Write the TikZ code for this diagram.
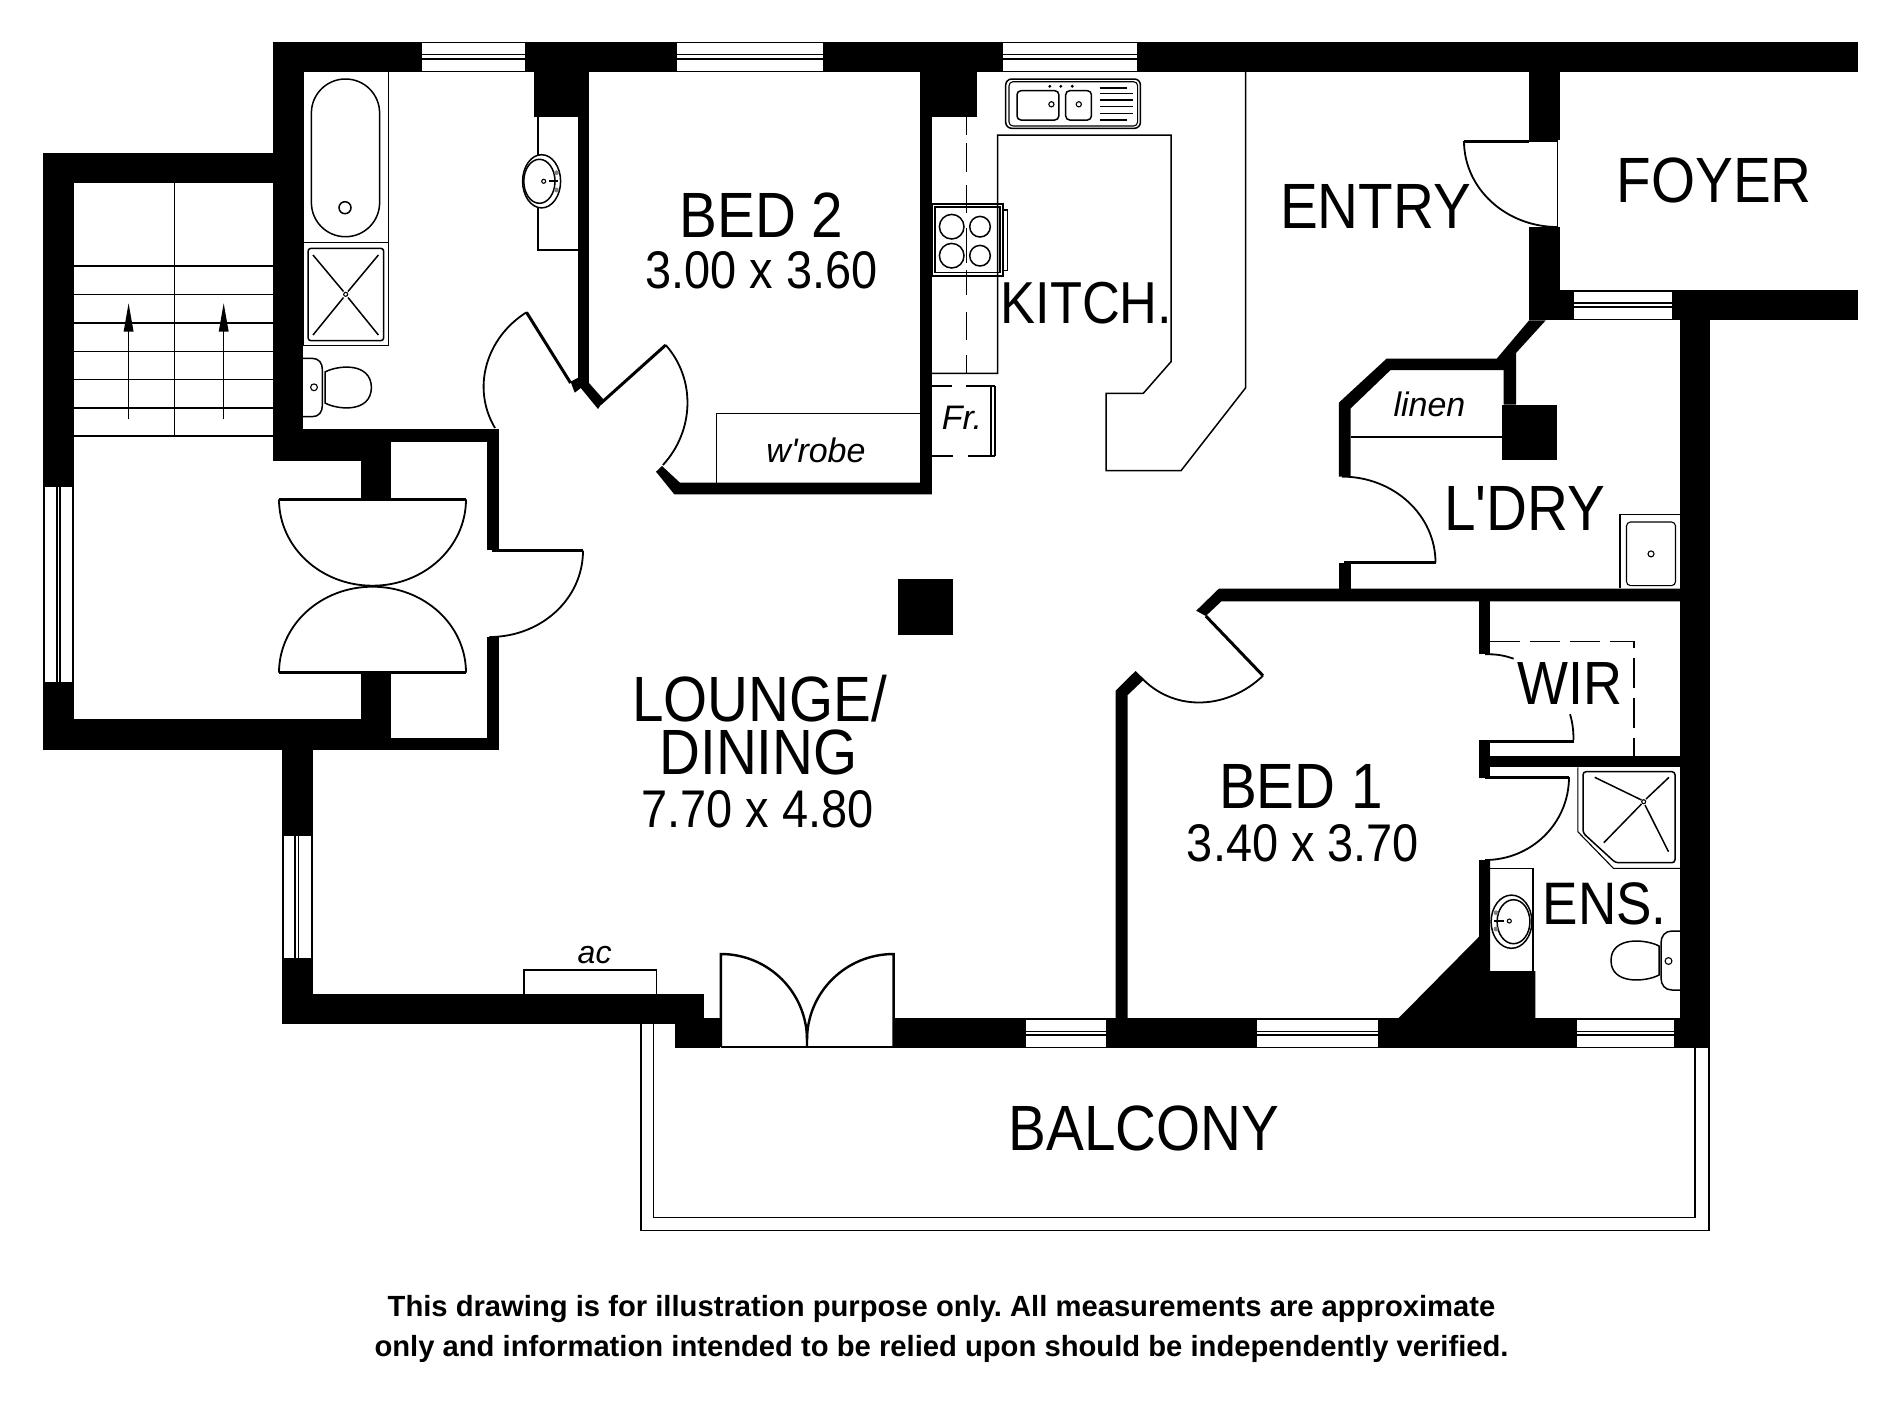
\documentclass[tikz,border=0pt]{standalone}
\usepackage{fontspec}
\setmainfont{Liberation Sans}
\newfontfamily\roomfont[FakeStretch=0.885]{Liberation Sans}
\newfontfamily\notefont{Liberation Sans}
\tikzset{
  wall/.style={fill=black,draw=none},
  glass/.style={fill=white,draw=none},
  pane/.style={draw=black,line width=0.8pt},
  fixture/.style={draw=black,line width=0.75pt},
  fine/.style={draw=black,line width=0.55pt},
  swing/.style={draw=black,line width=0.9pt},
  leaf/.style={draw=black,line width=1.5pt},
  hidden/.style={draw=black,line width=0.75pt,dash pattern=on 15pt off 5pt},
  room/.style={inner sep=0pt,font=\roomfont\fontsize{32}{32}\selectfont},
  size/.style={inner sep=0pt,font=\roomfont\fontsize{26.5}{26.5}\selectfont},
  note/.style={inner sep=0pt,font=\notefont\itshape\fontsize{17}{17}\selectfont},
  foot/.style={inner sep=0pt,font=\bfseries\frenchspacing\fontsize{14.6}{14.6}\selectfont}
}
\begin{document}
\begin{tikzpicture}[x=0.5pt,y=-0.5pt]
  \useasboundingbox (0,0) rectangle (1900,1425);
  \fill[wall] (272.6,41.7) rectangle (1858,72);
  \fill[wall] (272.6,41.7) rectangle (303,461);
  \fill[wall] (43,152.7) rectangle (303,183.3);
  \fill[wall] (43,152.7) rectangle (73.5,750);
  \fill[wall] (43,719) rectangle (360.8,750);
  \fill[wall] (390.6,737.7) rectangle (498.8,750);
  \fill[wall] (303,429.3) rectangle (498.8,441.7);
  \fill[wall] (272.6,441.7) rectangle (360.8,461);
  \fill[wall] (360.8,441.7) rectangle (390.6,499.3);
  \fill[wall] (360.8,674) rectangle (390.6,750);
  \fill[wall] (486.5,436) rectangle (498.8,550);
  \fill[wall] (486.5,636.7) rectangle (498.8,750);
  \fill[wall] (282,750) rectangle (312.7,1024);
  \fill[wall] (282,993.7) rectangle (704.3,1024);
  \fill[wall] (674.7,1017.7) rectangle (719.7,1048.3);
  \fill[wall] (894,1017.7) rectangle (1710,1048.3);
  \fill[wall] (1680,289.8) rectangle (1710,1048.3);
  \fill[wall] (1559.6,289.8) rectangle (1858,320.4);
  \fill[wall] (1529,72) rectangle (1559.6,139.8);
  \fill[wall] (1529,226.7) rectangle (1559.6,320.4);
  \fill[wall] (533.5,72) rectangle (589,116.7);
  \fill[wall] (577.5,116.7) rectangle (589,383);
  \fill[wall] (920,72) rectangle (977,116.7);
  \fill[wall] (920,116.7) rectangle (932.2,494.3);
  \fill[wall] (932.2,494.3) -- (674.3,494.3) -- (656,471.7) -- (662,466) -- (680,482.7) -- (920,482.7) -- cycle;
  \fill[wall] (577.5,378) -- (570.6,381.7) -- (574.7,392.7) -- (580.8,388) -- (598,409) -- (604,400) -- (589,383) -- cycle;
  \fill[wall] (1115.6,1018) -- (1115.6,690.7) -- (1135.5,671) -- (1144.2,679.3) -- (1127.7,695) -- (1127.7,1018) -- cycle;
  \fill[wall] (1218.8,588.7) -- (1680,588.7) -- (1680,601.3) -- (1221.4,601.3) -- (1205.8,616) -- (1196.2,610.7) -- cycle;
  \fill[wall] (1479,601.3) rectangle (1490.2,654.3);
  \fill[wall] (1479,740) rectangle (1490.2,778.3);
  \fill[wall] (1479,756) rectangle (1680,767.3);
  \fill[wall] (1490.2,860) -- (1479,860) -- (1479,936.7) -- (1398.7,1018) -- (1535.3,1018) -- (1535.3,971) -- (1490.2,971) -- cycle;
  \fill[wall] (1529,320.4) -- (1496.7,358.7) -- (1386.5,358.7) -- (1338.8,402.7) -- (1338.8,476.6) -- (1350.6,476.6) -- (1350.6,408.4) -- (1390.6,370) -- (1503.7,370) -- (1503.7,404.6) -- (1516,404.6) -- (1516,353) -- (1545.7,320.4) -- cycle;
  \fill[wall] (1502,404.6) rectangle (1557,460);
  \fill[wall] (1338.8,562.7) rectangle (1350.6,590);
  \fill[wall] (898,579) rectangle (952.5,635);

  \fill[glass] (422,43.3) rectangle (524.5,70.7);
  \draw[pane] (422,54.5) -- (524.5,54.5);
  \draw[pane] (422,59) -- (524.5,59);
  \fill[glass] (676.7,43.3) rectangle (822.9,70.7);
  \draw[pane] (676.7,54.5) -- (822.9,54.5);
  \draw[pane] (676.7,59) -- (822.9,59);
  \fill[glass] (1002.9,43.3) rectangle (1136.7,70.7);
  \draw[pane] (1002.9,54.5) -- (1136.7,54.5);
  \draw[pane] (1002.9,59) -- (1136.7,59);
  \fill[glass] (1574,291.7) rectangle (1672,319.3);
  \draw[pane] (1574,303) -- (1672,303);
  \draw[pane] (1574,307) -- (1672,307);
  \fill[glass] (44.5,486.7) rectangle (72,681.7);
  \draw[pane] (56.7,486.7) -- (56.7,681.7);
  \draw[pane] (60,486.7) -- (60,681.7);
  \fill[glass] (284,836) rectangle (311,958);
  \draw[pane] (295,836) -- (295,958);
  \draw[pane] (298.4,836) -- (298.4,958);
  \fill[glass] (1026.3,1019.5) rectangle (1106.4,1046.7);
  \draw[pane] (1026.3,1031.5) -- (1106.4,1031.5);
  \draw[pane] (1026.3,1035) -- (1106.4,1035);
  \fill[glass] (1257,1019.5) rectangle (1378.3,1046.7);
  \draw[pane] (1257,1031.5) -- (1378.3,1031.5);
  \draw[pane] (1257,1035) -- (1378.3,1035);
  \fill[glass] (1576.5,1019.5) rectangle (1674,1046.7);
  \draw[pane] (1576.5,1031.5) -- (1674,1031.5);
  \draw[pane] (1576.5,1035) -- (1674,1035);

  \draw[fixture] (174.3,183.3) -- (174.3,436);
  \draw[fixture] (73.5,266) -- (272.6,266);
  \draw[fixture] (73.5,294.7) -- (272.6,294.7);
  \draw[fixture] (73.5,323) -- (272.6,323);
  \draw[fixture] (73.5,351.7) -- (272.6,351.7);
  \draw[fixture] (73.5,379.7) -- (272.6,379.7);
  \draw[fixture] (73.5,408) -- (272.6,408);
  \draw[fixture] (73.5,436) -- (272.6,436);
  \draw[fixture] (128.6,419.3) -- (128.6,331);
  \fill[black] (128.6,303.3) -- (133.6,331.7) -- (123.6,331.7) -- cycle;
  \draw[fixture] (223.7,419.3) -- (223.7,331);
  \fill[black] (223.7,303.3) -- (228.7,331.7) -- (218.7,331.7) -- cycle;

  \draw[fixture] (303,71.7) rectangle (388.6,242.7);
  \draw[fixture,rounded corners=17pt] (311.4,79) rectangle (379.6,236.7);
  \draw[fixture] (345,207.7) circle[radius=3pt];
  \draw[fixture] (303,242.7) rectangle (388.6,345.7);
  \draw[fixture,rounded corners=1.5pt] (308,248.3) rectangle (383.7,340.7);
  \draw[fixture] (313,255) -- (343.5,291.5);
  \draw[fixture] (348,297.5) -- (378.4,335);
  \draw[fixture] (378.4,255) -- (348,291.5);
  \draw[fixture] (343.5,297.5) -- (313,335);
  \draw[fine] (345.7,294.3) circle[radius=1pt];
  \draw[fixture] (303,358.3) -- (312,358.3) .. controls (319,358.3) and (322.4,363) .. (322.4,370) -- (322.4,405) .. controls (322.4,412) and (319,416.7) .. (312,416.7) -- (303,416.7);
  \draw[fixture] (325,372) .. controls (338,365) and (371,362) .. (371.4,387.5) .. controls (371,413) and (338,410) .. (325,403) -- cycle;
  \draw[fine] (314,387.3) circle[radius=1.7pt];
  \draw[fixture] (538,116.7) -- (538,250) -- (577.5,250);
  \draw[fill=white,line width=0.75pt] (541.6,181.3) ellipse[x radius=9.5pt,y radius=13.3pt];
  \draw[fixture] (539.4,181.3) ellipse[x radius=7.8pt,y radius=11pt];
  \draw[fine] (543.7,181.3) circle[radius=1pt];
  \draw[line width=1pt] (549,181.3) -- (558,181.3);
  \fill[gray] (556.5,172.7) circle[radius=1.2pt];
  \fill[gray] (556.5,190) circle[radius=1.2pt];

  \draw[leaf] (526.5,312.3) -- (570.6,383);
  \draw[swing] (526.5,312.3) .. controls (486.5,337.3) and (471,387.6) .. (495,428);
  \draw[leaf] (600,404) -- (665.7,345);
  \draw[swing] (665.7,345) .. controls (696.2,379.4) and (694.1,431.2) .. (662.9,465);
  \draw[leaf] (279,499.3) -- (466,499.3);
  \draw[leaf] (279,672.7) -- (466,672.7);
  \draw[swing] (279,499.3) .. controls (279,547.2) and (320.9,585.7) .. (372.5,585.7) .. controls (424,585.7) and (466,547.2) .. (466,499.3);
  \draw[swing] (279,672.7) .. controls (279,624.8) and (320.9,586.7) .. (372.5,586.7) .. controls (424,586.7) and (466,624.8) .. (466,672.7);
  \draw[leaf] (492,550.7) -- (583,550.7);
  \draw[swing] (583,550.7) .. controls (583,598.9) and (541.1,637) .. (489.4,637);
  \draw[leaf] (1464,141) -- (1529,141);
  \draw[fixture] (1464,141) -- (1557.6,141) -- (1557.6,227);
  \draw[swing] (1464,141) .. controls (1464,188.5) and (1505.9,227) .. (1557.6,227);
  \draw[leaf] (1344,562.7) -- (1435.5,562.7);
  \draw[swing] (1435.5,562.7) .. controls (1435.5,515) and (1393.6,476.6) .. (1342,476.6);
  \draw[leaf] (1205.8,616) -- (1263,675.7);
  \draw[swing] (1263,675.7) .. controls (1228.7,708.6) and (1176.6,712.8) .. (1142.9,679.3);
  \draw[leaf] (1485,741.7) -- (1573.5,741.7);
  \draw[swing] (1485,654.3) -- (1490,654.3) .. controls (1498,654.3) and (1506,656) .. (1513.6,658.7);
  \draw[swing] (1570,714.3) .. controls (1572.5,722) and (1573.5,731) .. (1573.5,740);
  \draw[leaf] (1485,777) -- (1569,777);
  \draw[swing] (1569,777) .. controls (1569,823.3) and (1531.4,860) .. (1485,860);
  \draw[fixture,line width=1.2pt] (720.8,1047) -- (720.8,954) .. controls (768.4,954) and (807,992.4) .. (807,1040) -- (807,1047);
  \draw[fixture,line width=1.2pt] (893.6,1047) -- (893.6,954) .. controls (845.8,954) and (807,992.4) .. (807,1040);
  \draw[fixture] (720.8,1047) -- (893.6,1047);

  \draw[fixture] (523.8,993.7) -- (523.8,970) -- (656.6,970) -- (656.6,993.7);
  \draw[fixture] (641.2,1024) -- (641.2,1230.7) -- (1708.8,1230.7) -- (1708.8,1048.3);
  \draw[fixture] (653.3,1024) -- (653.3,1217.3) -- (1695,1217.3) -- (1695,1048.3);

  \draw[fixture] (716.3,482.7) -- (716.3,413.3) -- (920,413.3);
  \draw[fixture] (932.3,386) -- (951.7,386);
  \draw[fixture] (966,386) -- (995,386);
  \draw[fixture] (932.3,456) -- (953,456);
  \draw[fixture] (967.7,456) -- (995,456);
  \draw[fine] (991,386) -- (991,456);
  \draw[fine] (995,386) -- (995,456);
  \draw[fixture] (932.2,373.3) -- (997.6,373.3) -- (997.6,135) -- (1171,135) -- (1171,361.7) -- (1143.3,393.3) -- (1106,393.3) -- (1106,470.7) -- (1181,470.7) -- (1245.7,387.7) -- (1245.7,72);
  \draw[fixture] (966.7,116.7) -- (966.7,135);
  \draw[fixture] (966.7,143) -- (966.7,172);
  \draw[fixture] (966.7,185) -- (966.7,213);
  \draw[fixture] (966.7,270) -- (966.7,295);
  \draw[fixture] (966.7,312) -- (966.7,340);
  \draw[fixture] (966.7,355) -- (966.7,373.3);
  \draw[fixture] (932.7,204) rectangle (1003,276);
  \draw[fixture] (935,207) rectangle (1000,272.7);
  \draw[fine] (1003,210) rectangle (1007.3,270.7);
  \draw[fine] (966.7,228) -- (966.7,263);
  \draw[fixture] (951.7,226.7) circle[radius=6.15pt];
  \draw[fixture] (980,226.7) circle[radius=5.15pt];
  \draw[fixture] (951.7,255.7) circle[radius=6.15pt];
  \draw[fixture] (980,255.7) circle[radius=5.15pt];
  \draw[fixture,rounded corners=3pt] (1005.7,79) rectangle (1140.4,128.3);
  \draw[fine,rounded corners=2pt] (1009,81.7) rectangle (1137.6,126);
  \draw[fixture,rounded corners=2pt] (1017,90.7) rectangle (1058.8,120);
  \draw[fixture,rounded corners=2pt] (1065.7,90.7) rectangle (1091.4,120);
  \draw[fine] (1051.4,104.3) circle[radius=1.3pt];
  \draw[fine] (1078.8,104.3) circle[radius=1.3pt];
  \fill[black] (1049.8,86.3) circle[radius=0.8pt];
  \fill[black] (1060.8,86.3) circle[radius=0.8pt];
  \fill[black] (1072.2,86.3) circle[radius=0.8pt];
  \draw[fixture] (1099.6,88) -- (1127,88);
  \draw[fixture] (1099.6,93.3) -- (1133,93.3);
  \draw[fixture] (1099.6,100) -- (1133,100);
  \draw[fixture] (1099.6,106.7) -- (1133,106.7);
  \draw[fixture] (1099.6,113.3) -- (1133,113.3);
  \draw[fixture] (1099.6,120) -- (1127,120);

  \draw[fixture] (1350.6,437) -- (1502,437);
  \draw[fine] (1620,588.3) -- (1620,514.8) -- (1680,514.8);
  \draw[fine,rounded corners=2pt] (1626.5,522) rectangle (1675.5,585.6);
  \draw[fine] (1651,553.9) circle[radius=1.5pt];

  \draw[hidden] (1490.2,641.7) -- (1634,641.7) -- (1634,756);
  \draw[fine] (1577.8,767.3) -- (1577.8,831.7) -- (1613.4,868.3) -- (1680,868.3);
  \draw[fixture,rounded corners=1.5pt] (1583,771.7) -- (1675,771.7) -- (1675,862.7) -- (1615.5,862.7) -- (1583,833) -- cycle;
  \draw[fixture] (1594.7,777.3) -- (1641.5,800);
  \draw[fixture] (1669,777.3) -- (1646,799);
  \draw[fixture] (1603.8,842.7) -- (1641.5,804);
  \draw[fixture] (1668.5,851.7) -- (1645,805);
  \draw[fine] (1643.7,801.7) circle[radius=1pt];
  \draw[fixture] (1490.2,868.3) -- (1533,868.3) -- (1533,971);
  \draw[fill=white,line width=0.75pt] (1511.5,921.7) ellipse[x radius=10.2pt,y radius=13.3pt];
  \draw[fixture] (1513.5,921.7) ellipse[x radius=8.2pt,y radius=11pt];
  \draw[fine] (1509.3,921) circle[radius=1pt];
  \draw[line width=1pt] (1494,921) -- (1504,921);
  \fill[gray] (1496,912.7) circle[radius=1.2pt];
  \fill[gray] (1496,929) circle[radius=1.2pt];
  \draw[fixture] (1680,931) -- (1672,931) .. controls (1665,931) and (1661,936) .. (1661,943) -- (1661,978) .. controls (1661,985) and (1665,990) .. (1672,990) -- (1680,990);
  \draw[fixture] (1659,946) .. controls (1646,939) and (1611,936) .. (1611,960.5) .. controls (1611,985) and (1646,982) .. (1659,975) -- cycle;
  \draw[fine] (1668.5,961) circle[radius=1.7pt];

  \node[room] (bedtwo) at (761.6,215) {BED 2};
  \node[size] (bedtwosize) at (761.6,270.7) {3.00 x 3.60};
  \node[note] (wrobe) at (816,450) {w'robe};
  \node[note] (fridge) at (962,418) {Fr.};
  \node[room,font=\roomfont\fontsize{29.6}{29.6}\selectfont] (kitch) at (1086.5,302.7) {KITCH.};
  \node[room] (entry) at (1375.5,206.4) {ENTRY};
  \node[room] (foyer) at (1714.3,180.7) {FOYER};
  \node[note] (linen) at (1429.4,404.6) {linen};
  \node[room] (ldry) at (1524.5,508) {L'DRY};
  \node[room,font=\roomfont\fontsize{30.5}{30.5}\selectfont] (wir) at (1570,684) {WIR};
  \node[room] (bedone) at (1301,786.7) {BED 1};
  \node[size] (bedonesize) at (1303,843) {3.40 x 3.70};
  \node[room,font=\roomfont\fontsize{30}{30}\selectfont] (ens) at (1604.7,904) {ENS.};
  \node[room] (lounge) at (759.7,699) {LOUNGE/};
  \node[room] (dining) at (758.5,752.5) {DINING};
  \node[size] (loungesize) at (757.3,809.4) {7.70 x 4.80};
  \node[note,font=\notefont\itshape\fontsize{16}{16}\selectfont] (ac) at (594.6,955) {ac};
  \node[room] (balcony) at (1143.8,1128) {BALCONY};
  \node[foot] (footone) at (941.5,1308.5) {This drawing is for illustration purpose only. All measurements are approximate};
  \node[foot] (foottwo) at (941.5,1349) {only and information intended to be relied upon should be independently verified.};
\end{tikzpicture}
\end{document}
